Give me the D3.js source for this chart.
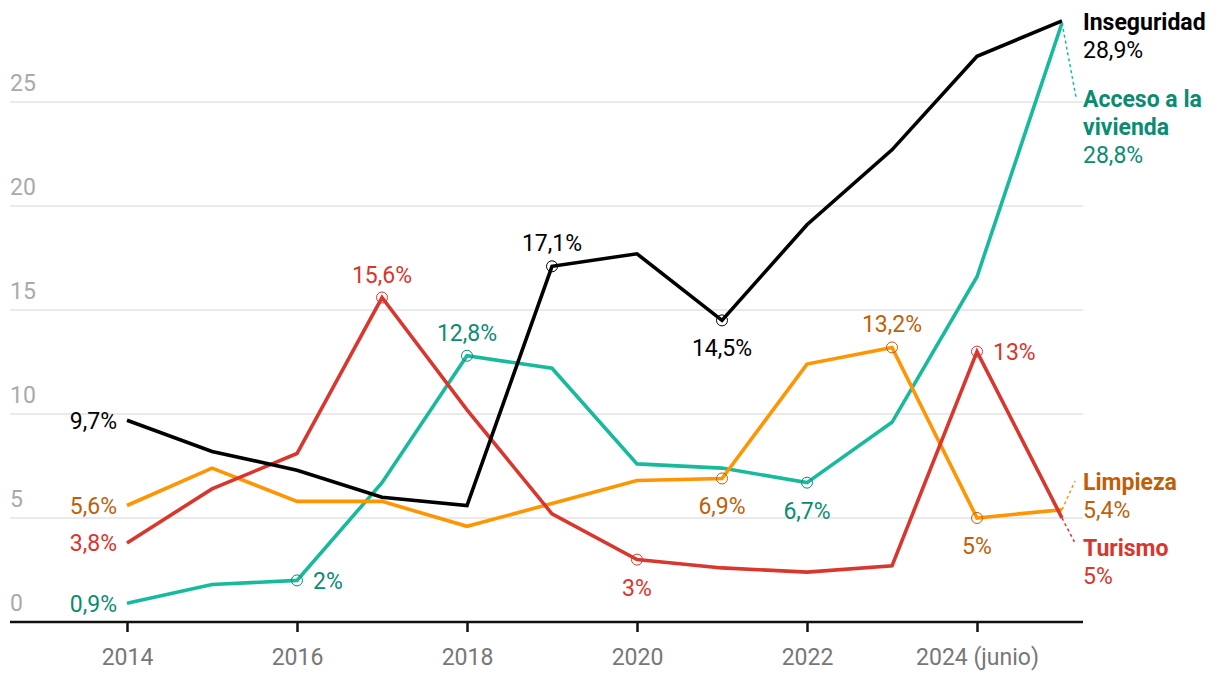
<!DOCTYPE html>
<html>
<head>
<meta charset="utf-8">
<script src="https://cdn.jsdelivr.net/npm/d3@7"></script>
<style>
  body { margin: 0; background: #fff; }
  svg text { font-family: Roboto, "Noto Sans", sans-serif; }
</style>
</head>
<body>
<div id="chart"></div>
<script>
// data (percent)
let years = [2014, 2015, 2016, 2017, 2018, 2019, 2020, 2021, 2022, 2023, 2024, 2025];
let inseguridad = [9.7, 8.2, 7.3, 6.0, 5.6, 17.1, 17.7, 14.5, 19.1, 22.7, 27.2, 28.9];
let vivienda    = [0.9, 1.8, 2.0, 6.7, 12.8, 12.2, 7.6, 7.4, 6.7, 9.6, 16.6, 28.8];
let limpieza    = [5.6, 7.4, 5.8, 5.8, 4.6, 5.7, 6.8, 6.9, 12.4, 13.2, 5.0, 5.4];
let turismo     = [3.8, 6.4, 8.1, 15.6, 10.2, 5.2, 3.0, 2.6, 2.4, 2.7, 13.0, 5.0];
let yTicks = [0, 5, 10, 15, 20, 25];
let xTicks = [2014, 2016, 2018, 2020, 2022, 2024];
let xTickLabels = ["2014", "2016", "2018", "2020", "2022", "2024 (junio)"];

// series drawing order: teal, orange, red, black on top
let series = [
  { name: "Acceso a la vivienda", values: vivienda, line: "#17bb9c", text: "#0b8b72" },
  { name: "Limpieza", values: limpieza, line: "#ff9500", text: "#c05f08" },
  { name: "Turismo", values: turismo, line: "#d9362d", text: "#d9362d" },
  { name: "Inseguridad", values: inseguridad, line: "#000000", text: "#000000" }
];

// which points get a value label, and where it goes
// pos: "left" (end at point), "right", "above", "below"
let notes = [
  { s: 3, i: 0, pos: "left" }, { s: 1, i: 0, pos: "left" },
  { s: 2, i: 0, pos: "left" }, { s: 0, i: 0, pos: "left" },
  { s: 0, i: 2, pos: "right", ring: true },
  { s: 2, i: 3, pos: "above", ring: true },
  { s: 0, i: 4, pos: "above", ring: true },
  { s: 3, i: 5, pos: "above", ring: true },
  { s: 3, i: 7, pos: "below", ring: true },
  { s: 2, i: 6, pos: "below", ring: true },
  { s: 1, i: 7, pos: "below", ring: true },
  { s: 0, i: 8, pos: "below", ring: true },
  { s: 1, i: 9, pos: "above", ring: true },
  { s: 2, i: 10, pos: "right", ring: true },
  { s: 1, i: 10, pos: "below", ring: true }
];

// end labels: series index, lines of the name, baseline of first line, where the leader line ends
let endLabels = [
  { s: 3, lines: ["Inseguridad"], y: 30, leader: null },
  { s: 0, lines: ["Acceso a la", "vivienda"], y: 107, leader: [1076, 97] },
  { s: 1, lines: ["Limpieza"], y: 490, leader: [1075, 481] },
  { s: 2, lines: ["Turismo"], y: 556, leader: [1075, 543] }
];

let fmt = v => String(v).replace(".", ",") + "%";

let width = 1220, height = 682;
let svg = d3.select("#chart").append("svg")
  .attr("width", width)
  .attr("height", height);

let xScale = d3.scaleLinear().domain([2014, 2025]).range([127, 1062]);
let yScale = d3.scaleLinear().domain([0, 25]).range([622, 102]);

// grid lines + y labels
let grid = svg.append("g");
grid.selectAll("line")
  .data(yTicks.filter(d => d > 0))
  .enter().append("line")
  .attr("x1", 10).attr("x2", 1083)
  .attr("y1", d => yScale(d)).attr("y2", d => yScale(d))
  .attr("stroke", "#e3e3e3")
  .attr("stroke-width", 1.5);
grid.selectAll("text")
  .data(yTicks)
  .enter().append("text")
  .attr("x", 10)
  .attr("y", d => yScale(d) - 11)
  .attr("fill", "#aaaaaa")
  .style("font-size", "23px")
  .text(d => d);

// x axis
let xAxis = d3.axisBottom(xScale)
  .tickValues(xTicks)
  .tickSize(10)
  .tickSizeOuter(0)
  .tickFormat((d, i) => xTickLabels[i]);
let gx = svg.append("g")
  .attr("transform", `translate(0,${yScale(0)})`)
  .call(xAxis);
gx.select(".domain").remove();
gx.append("line")
  .attr("x1", 10).attr("x2", 1083)
  .attr("stroke", "#111").attr("stroke-width", 2.5);
gx.selectAll(".tick line").attr("stroke", "#111").attr("stroke-width", 2.5);
gx.selectAll(".tick text")
  .attr("y", 27)
  .attr("dy", "0.71em")
  .attr("fill", "#777")
  .style("font-size", "23px")
  .style("font-family", "Roboto, sans-serif");

// lines
let line = d3.line()
  .x((d, i) => xScale(years[i]))
  .y(d => yScale(d));

svg.append("g")
  .selectAll("path")
  .data(series)
  .enter().append("path")
  .attr("d", d => line(d.values))
  .attr("fill", "none")
  .attr("stroke", d => d.line)
  .attr("stroke-width", 3.6)
  .attr("stroke-linejoin", "miter");

// value labels
let ng = svg.append("g");
notes.forEach(n => {
  let s = series[n.s];
  let v = s.values[n.i];
  let px = xScale(years[n.i]), py = yScale(v);
  if (n.ring) {
    ng.append("circle")
      .attr("cx", px).attr("cy", py).attr("r", 5.5)
      .attr("fill", "none")
      .attr("stroke", s.text)
      .attr("stroke-width", 1);
  }
  let t = ng.append("text")
    .attr("fill", s.text)
    .style("font-size", "23px")
    .text(fmt(v));
  if (n.pos == "left") {
    t.attr("x", px - 10).attr("y", py).attr("dy", "0.36em").attr("text-anchor", "end");
  } else if (n.pos == "right") {
    t.attr("x", px + 16).attr("y", py).attr("dy", "0.36em");
  } else if (n.pos == "above") {
    t.attr("x", px).attr("y", py - 15).attr("text-anchor", "middle");
  } else {
    t.attr("x", px).attr("y", py + 36).attr("text-anchor", "middle");
  }
});

// end labels with dotted leaders
let eg = svg.append("g");
endLabels.forEach(e => {
  let s = series[e.s];
  let last = s.values.length - 1;
  if (e.leader) {
    eg.append("line")
      .attr("x1", xScale(years[last])).attr("y1", yScale(s.values[last]))
      .attr("x2", e.leader[0]).attr("y2", e.leader[1])
      .attr("stroke", s.line)
      .attr("stroke-width", 1.5)
      .attr("stroke-dasharray", "3,3");
  }
  let t = eg.append("text")
    .attr("x", 1083)
    .attr("y", e.y)
    .attr("fill", s.text)
    .style("font-size", "23px");
  e.lines.forEach((l, k) => {
    t.append("tspan")
      .attr("x", 1083)
      .attr("dy", k == 0 ? 0 : 28)
      .style("font-weight", "bold")
      .text(l);
  });
  t.append("tspan")
    .attr("x", 1083)
    .attr("dy", 28)
    .text(fmt(s.values[last]));
});
</script>
</body>
</html>
